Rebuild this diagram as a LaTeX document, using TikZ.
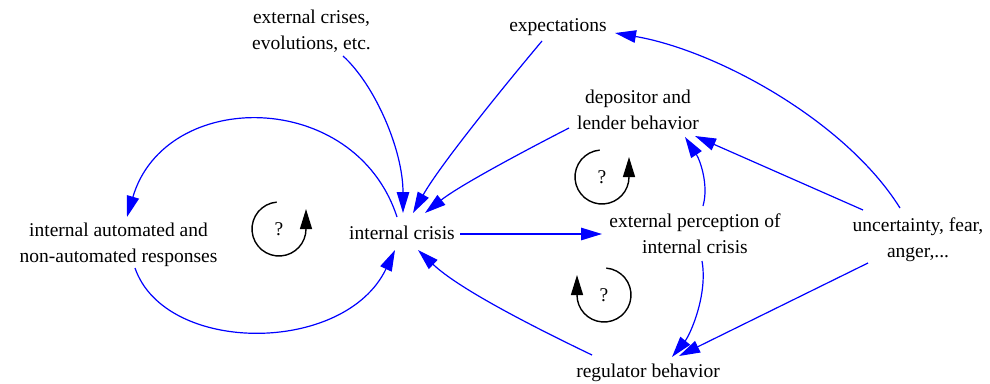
\documentclass[tikz,border=0pt]{standalone}
\usepackage{fontspec}
\setmainfont{Liberation Serif}
\usetikzlibrary{arrows.meta,calc}
\begin{document}
\begin{tikzpicture}[x=1pt,y=-1pt,
  lbl/.style={inner sep=0pt,align=center,font=\fontsize{19.5}{26}\selectfont},
  qmark/.style={inner sep=0pt,font=\fontsize{19.5}{26}\selectfont},
  edge/.style={draw={rgb,255:red,0;green,0;blue,255},line width=1.2pt,
    arrows={-{Triangle[length=21pt,width=12.5pt,fill={rgb,255:red,0;green,0;blue,255}]}}},
  loopline/.style={draw=black,line width=1.4pt,-{Triangle[length=20pt,width=12pt]}}
]
\useasboundingbox (0,0) rectangle (990,383);
% nodes
\node[lbl] (ext)  at (311.5,31.5) {external crises,\\evolutions, etc.};
\node[lbl] (exp)  at (558,27.5)   {expectations};
\node[lbl] (dep)  at (638,110)    {depositor and\\lender behavior};
\node[lbl] (auto) at (118.5,245)  {internal automated and\\non-automated responses};
\node[lbl] (ic)   at (402,233)    {internal crisis};
\node[lbl] (per)  at (695,234)    {external perception of\\internal crisis};
\node[lbl] (unc)  at (918,239.5)  {uncertainty, fear,\\anger,...};
\node[lbl] (reg)  at (648,372.5)  {regulator behavior};
% loop markers
\node[qmark] (q1) at (279,229) {?};
\node[qmark] (q2) at (602,177) {?};
\node[qmark] (q3) at (604,295) {?};
% edges
\draw[edge] ($(ic)+(58,1)$) -- ($(per)+(-93,0)$);
\draw[edge] ($(ext)+(31.5,24.5)$) .. controls (375,85) and (403,150) .. ($(ic)+(1,-20)$);
\draw[edge] ($(exp)+(-16,13.5)$) .. controls (505,85) and (440,165) .. ($(ic)+(11,-20)$);
\draw[edge] ($(dep)+(-69,18)$) .. controls (530,148) and (460,185) .. ($(ic)+(23,-20)$);
\draw[edge] ($(reg)+(-56,-17.5)$) .. controls (540,330) and (460,290) .. ($(ic)+(16,17)$);
\draw[edge] ($(ic)+(-5,-16)$) .. controls (355,88) and (165,88) .. ($(auto)+(8.5,-28)$);
\draw[edge] ($(auto)+(16.5,23)$) .. controls (165,355) and (345,355) .. ($(ic)+(-7,17)$);
\draw[edge] ($(unc)+(-18,-31.5)$) .. controls (845,120) and (715,50) .. ($(exp)+(57,5.5)$);
\draw[edge] ($(unc)+(-55,-29.5)$) -- ($(dep)+(57,26)$);
\draw[edge] ($(unc)+(-50,23.5)$) -- ($(reg)+(31,-16.5)$);
\draw[edge] ($(per)+(8,-28)$) .. controls (709,185) and (700,160) .. ($(dep)+(47,27)$);
\draw[edge] ($(per)+(7,27)$) .. controls (708,295) and (690,335) .. ($(reg)+(24,-15.5)$);
% loops
\draw[loopline] ($(q1)+(-95:27)$) arc[start angle=-95,end angle=-360,radius=27] -- ++(0,-20);
\draw[loopline] ($(q2)+(-95:27)$) arc[start angle=-95,end angle=-360,radius=27] -- ++(0,-20);
\draw[loopline] ($(q3)+(-85:27)$) arc[start angle=-85,end angle=180,radius=27] -- ++(0,-20);
\end{tikzpicture}
\end{document}
